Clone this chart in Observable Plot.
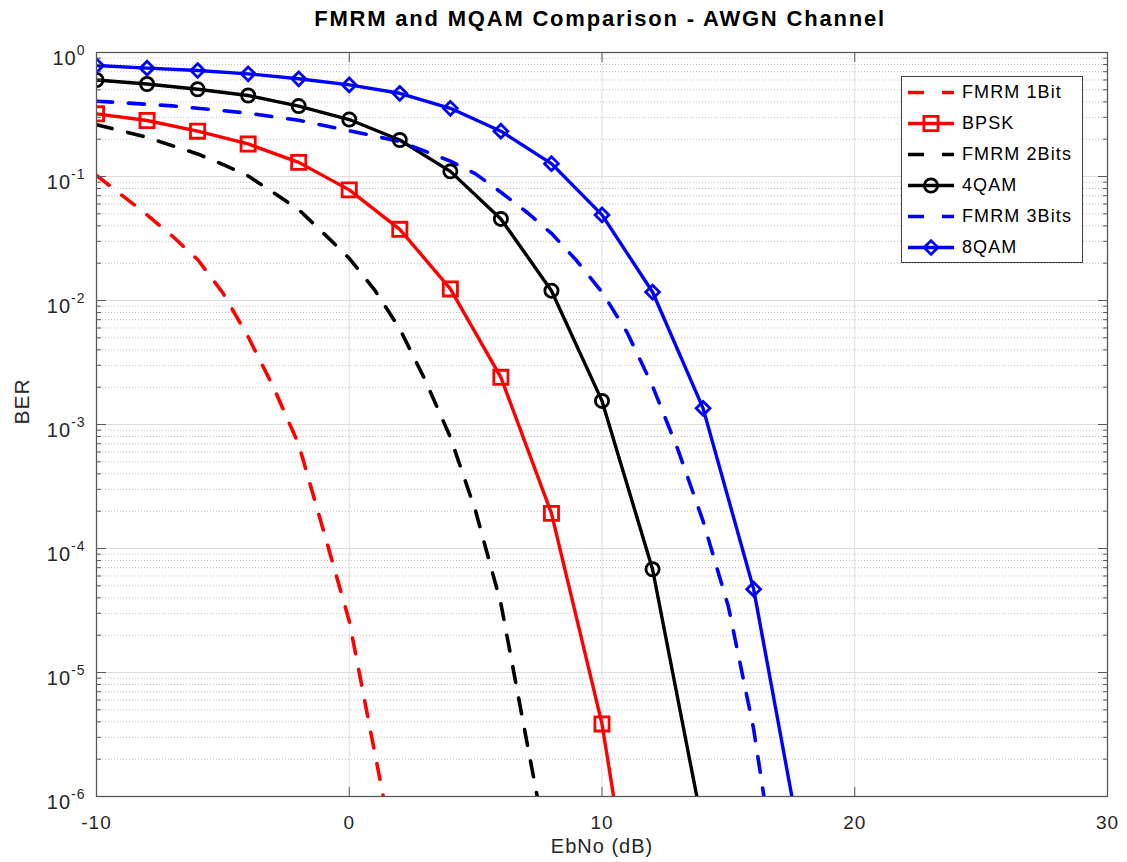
<!DOCTYPE html>
<html>
<head>
<meta charset="utf-8">
<script src="https://cdn.jsdelivr.net/npm/d3@7"></script>
<script src="https://cdn.jsdelivr.net/npm/@observablehq/plot@0.6"></script>
<style>
  body { margin: 0; background: #fff; font-family: "Liberation Sans", Arial, sans-serif; }
  #wrap { position: relative; width: 1127px; height: 862px; overflow: hidden; }
  #title { height: 36px; box-sizing: border-box; padding-top: 2px; padding-left: 73px; line-height: 34px;
           text-align: center; font-weight: bold; font-size: 22px; letter-spacing: 1.8px; color: #000; }
  #legend { position: absolute; left: 901px; top: 76px; width: 182px; height: 187px; box-sizing: border-box;
            border: 1px solid #404040; background: #fff; padding-top: 0px; }
  .row { height: 31px; display: flex; align-items: center; }
  .row svg { margin-left: 6px; flex: none; }
  .row span { margin-left: 8px; font-size: 18px; letter-spacing: 1.1px; color: #000; white-space: nowrap; }
</style>
</head>
<body>
<div id="wrap">
  <div id="title">FMRM and MQAM Comparison - AWGN Channel</div>
  <div id="chart"></div>
  <div id="legend"></div>
</div>
<script>
// ---- data ----
const ebnoFMRM1 = [-10, -9, -8, -7, -6, -5, -4, -3, -2, -1, 0, 1, 2];
const berFMRM1  = [0.102, 0.0708, 0.049, 0.0331, 0.0214, 0.0115, 5.1e-3, 2.0e-3, 6.9e-4, 1.35e-4, 2.6e-5, 2.3e-6, 2.1e-7];

const ebnoFMRM2 = [-10, -9, -8, -7, -6, -5, -4, -3, -2, -1, 0, 1, 2, 3, 4, 5, 6, 7, 8];
const berFMRM2  = [0.261, 0.233, 0.207, 0.177, 0.152, 0.125, 0.101, 0.0741, 0.0541, 0.0346,
                   0.0219, 0.0122, 5.9e-3, 2.29e-3, 7.9e-4, 2.0e-4, 3.6e-5, 2.95e-6, 2.5e-7];

const ebnoFMRM3 = [-10, -9, -8, -7, -6, -5, -4, -3, -2, -1, 0, 1, 2, 3, 4, 5, 6, 7, 8, 9, 10, 11, 12, 13, 14, 15, 16, 17];
const berFMRM3  = [0.405, 0.394, 0.382, 0.371, 0.355, 0.340, 0.324, 0.303, 0.284, 0.258,
                   0.234, 0.212, 0.191, 0.160, 0.133, 0.105, 0.0746, 0.052, 0.0348, 0.0209,
                   0.0117, 5.5e-3, 2.04e-3, 6.3e-4, 1.66e-4, 3.4e-5, 3.5e-6, 1.6e-7];

const ebnoBPSK = [-10, -8, -6, -4, -2, 0, 2, 4, 6, 8, 10, 12];
const berBPSK  = [0.32, 0.283, 0.232, 0.183, 0.13, 0.078, 0.0375, 0.0124, 2.4e-3, 1.92e-4, 3.85e-6, 1.1e-8];

const ebno4QAM = [-10, -8, -6, -4, -2, 0, 2, 4, 6, 8, 10, 12, 14];
const ber4QAM  = [0.6, 0.557, 0.505, 0.45, 0.37, 0.288, 0.197, 0.11, 0.0455, 0.012, 1.55e-3, 6.8e-5, 5.5e-7];

const ebno8QAM = [-10, -8, -6, -4, -2, 0, 2, 4, 6, 8, 10, 12, 14, 16, 18];
const ber8QAM  = [0.785, 0.748, 0.716, 0.673, 0.614, 0.548, 0.469, 0.355, 0.232, 0.127, 0.049, 0.0117, 1.35e-3, 4.7e-5, 2.9e-7];

const seriesNames = ["FMRM 1Bit", "BPSK", "FMRM 2Bits", "4QAM", "FMRM 3Bits", "8QAM"];
const xTickValues = [-10, 0, 10, 20, 30];
const yTickExponents = [-6, -5, -4, -3, -2, -1, 0];
const xLabel = "EbNo (dB)";
const yLabel = "BER";

// ---- styles ----
const styles = {
  "FMRM 1Bit":  {color: "#ff0000", dash: "16,16", symbol: null},
  "BPSK":       {color: "#ff0000", dash: null, symbol: "square", r: 8},
  "FMRM 2Bits": {color: "#000000", dash: "16,16", symbol: null},
  "4QAM":       {color: "#000000", dash: null, symbol: "circle", r: 6.6},
  "FMRM 3Bits": {color: "#0000ff", dash: "16,16", symbol: null},
  "8QAM":       {color: "#0000ff", dash: null, symbol: "diamond2", r: 6.2}
};

const sources = {
  "FMRM 1Bit": [ebnoFMRM1, berFMRM1],
  "BPSK": [ebnoBPSK, berBPSK],
  "FMRM 2Bits": [ebnoFMRM2, berFMRM2],
  "4QAM": [ebno4QAM, ber4QAM],
  "FMRM 3Bits": [ebnoFMRM3, berFMRM3],
  "8QAM": [ebno8QAM, ber8QAM]
};
const rows = seriesNames.flatMap(name => {
  const [xs, ys] = sources[name];
  return xs.map((x, i) => ({series: name, ebno: x, ber: ys[i]}));
});

const yMajor = yTickExponents.map(e => Math.pow(10, e));
const yMinor = yTickExponents.slice(0, -1).flatMap(e => [2,3,4,5,6,7,8,9].map(m => m * Math.pow(10, e)));

const frameColor = "#595959";
const textColor = "#262626";

const lineMarks = seriesNames.map(name => {
  const s = styles[name];
  return Plot.line(rows.filter(d => d.series === name), {
    x: "ebno", y: "ber", stroke: s.color, strokeWidth: s.dash ? 3.6 : 3.4,
    strokeDasharray: s.dash ?? undefined, strokeLinejoin: "round", clip: true
  });
});
const dotMarks = seriesNames.filter(n => styles[n].symbol).map(name => {
  const s = styles[name];
  return Plot.dot(rows.filter(d => d.series === name), {
    x: "ebno", y: "ber", symbol: s.symbol, r: s.r, stroke: s.color, strokeWidth: 2.8, fill: "none", clip: true
  });
});

const chart = Plot.plot({
  width: 1127,
  height: 826,
  marginTop: 16,
  marginBottom: 66,
  marginLeft: 96,
  marginRight: 20,
  style: {fontFamily: "'Liberation Sans', Arial, sans-serif", background: "#fff", letterSpacing: "1px", overflow: "visible"},
  x: {domain: [-10, 30]},
  y: {type: "log", domain: [1e-6, 1]},
  marks: [
    Plot.ruleY(yMinor, {stroke: "#c0c0c0", strokeDasharray: "1,2", strokeWidth: 1}),
    Plot.ruleY(yMajor, {stroke: "#dedede", strokeWidth: 1}),
    Plot.ruleX(xTickValues, {stroke: "#dedede", strokeWidth: 1}),
    ...lineMarks,
    ...dotMarks,
    // tick labels
    Plot.axisX(xTickValues, {anchor: "bottom", tickSize: 0, tickPadding: 19, fontSize: 19, fill: textColor, label: null,
      tickFormat: d => String(d)}),
    Plot.axisY(yMajor, {anchor: "left", tickSize: 0, tickPadding: 11, fontSize: 20, fill: textColor, label: null,
      tickFormat: d => "10^" + Math.round(Math.log10(d))}),
    // axis titles
    Plot.text([xLabel], {text: d => d, frameAnchor: "bottom", dy: 56, fontSize: 20, fill: textColor}),
    Plot.text([yLabel], {text: d => d, frameAnchor: "left", rotate: -90, dx: -74, fontSize: 21, fill: textColor}),
    // inward ticks (box on)
    Plot.axisX(xTickValues, {anchor: "bottom", tickSize: -9, tickFormat: () => "", label: null, stroke: frameColor}),
    Plot.axisX(xTickValues, {anchor: "top", tickSize: -9, tickFormat: () => "", label: null, stroke: frameColor}),
    Plot.axisY(yMajor, {anchor: "left", tickSize: -10, tickFormat: () => "", label: null, stroke: frameColor}),
    Plot.axisY(yMinor, {anchor: "left", tickSize: -5, tickFormat: () => "", label: null, stroke: frameColor}),
    Plot.axisY(yMajor, {anchor: "right", tickSize: -10, tickFormat: () => "", label: null, stroke: frameColor}),
    Plot.axisY(yMinor, {anchor: "right", tickSize: -5, tickFormat: () => "", label: null, stroke: frameColor}),
    Plot.frame({stroke: frameColor, strokeWidth: 1.3})
  ]
});
document.getElementById("chart").appendChild(chart);

// superscript exponents on the y tick labels
d3.select(chart).selectAll('[aria-label="y-axis tick label"] text').each(function () {
  const t = this.textContent;
  if (!t || t.indexOf("10^") !== 0) return;
  const exp = t.slice(3);
  const sel = d3.select(this);
  sel.text("");
  sel.append("tspan").attr("dy", 6).text("10");
  sel.append("tspan").attr("dy", -10).attr("font-size", 14).text(exp);
});

// legend
const legend = d3.select("#legend");
seriesNames.forEach(name => {
  const s = styles[name];
  const row = legend.append("div").attr("class", "row");
  const svg = row.append("svg").attr("width", 46).attr("height", 31);
  svg.append("line").attr("x1", 0).attr("x2", 46).attr("y1", 15.5).attr("y2", 15.5)
    .attr("stroke", s.color).attr("stroke-width", s.dash ? 3.6 : 3.4)
    .attr("stroke-dasharray", s.dash ? "16,18" : null);
  if (s.symbol) {
    const symType = {square: d3.symbolSquare, circle: d3.symbolCircle, diamond2: d3.symbolDiamond2}[s.symbol];
    svg.append("path").attr("transform", "translate(23,15.5)")
      .attr("d", d3.symbol(symType, s.r * s.r * Math.PI)())
      .attr("fill", "none").attr("stroke", s.color).attr("stroke-width", 2.8);
  }
  row.append("span").text(name);
});
</script>
</body>
</html>
